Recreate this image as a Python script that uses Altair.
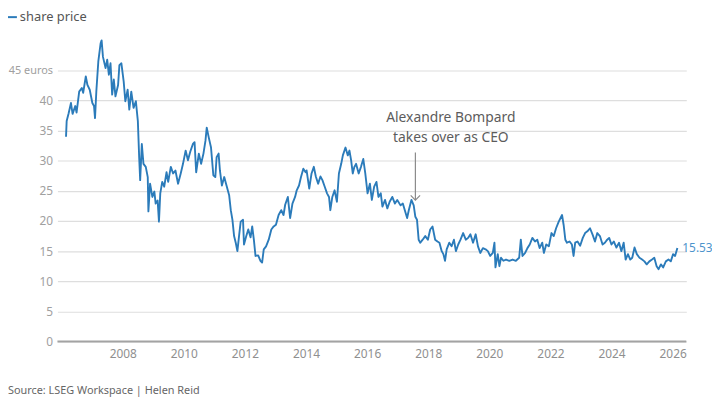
import altair as alt
import pandas as pd

# Share price, euros (decimal year, value)
years = [
2006.145,2006.166,2006.231,2006.307,2006.360,2006.447,2006.490,2006.576,2006.662,2006.706,
2006.792,2006.846,2006.921,2007.007,2007.061,2007.094,2007.137,2007.202,2007.277,2007.310,
2007.353,2007.439,2007.493,2007.547,2007.601,2007.655,2007.709,2007.763,2007.849,2007.892,
2007.957,2008.032,2008.086,2008.162,2008.216,2008.281,2008.356,2008.431,2008.496,2008.539,
2008.572,2008.626,2008.680,2008.755,2008.820,2008.841,2008.896,2008.971,2009.036,2009.079,
2009.143,2009.187,2009.230,2009.294,2009.359,2009.435,2009.489,2009.575,2009.650,2009.726,
2009.812,2009.899,2009.974,
2010.060,2010.136,2010.211,2010.298,2010.352,2010.405,2010.492,2010.567,2010.643,2010.708,
2010.751,2010.816,2010.891,2010.967,2011.031,2011.074,2011.139,2011.182,2011.247,2011.323,
2011.398,2011.484,2011.538,2011.592,2011.646,2011.700,2011.754,2011.808,2011.862,2011.938,
2011.970,2012.045,2012.110,2012.185,2012.239,2012.293,2012.347,2012.434,2012.509,2012.563,
2012.617,2012.693,2012.779,2012.865,2012.941,2013.016,2013.103,2013.189,2013.264,2013.318,
2013.405,2013.480,2013.556,2013.642,2013.696,2013.771,2013.836,2013.912,2013.987,
2014.019,2014.106,2014.181,2014.256,2014.321,2014.397,2014.472,2014.537,2014.613,2014.688,
2014.753,2014.796,2014.861,2014.936,2015.012,2015.077,2015.152,2015.206,2015.292,2015.368,
2015.422,2015.476,2015.530,2015.584,2015.638,2015.724,2015.799,2015.875,2015.940,2016.015,
2016.091,2016.155,2016.231,2016.306,2016.371,2016.447,2016.501,2016.587,2016.662,2016.738,
2016.824,2016.910,2016.986,2017.094,2017.169,2017.234,2017.310,2017.364,2017.450,2017.525,
2017.579,2017.633,2017.687,2017.741,2017.817,2017.903,2017.989,2018.065,2018.140,
2018.227,2018.302,2018.367,2018.442,2018.496,2018.550,2018.604,2018.690,2018.766,2018.841,
2018.906,2018.982,2019.057,2019.143,2019.230,2019.305,2019.381,2019.467,2019.553,2019.629,
2019.705,2019.790,2019.877,2019.952,2020.028,2020.114,2020.168,2020.201,2020.276,2020.330,
2020.384,2020.460,2020.546,2020.654,2020.761,2020.869,2020.977,2021.031,2021.085,2021.172,
2021.247,2021.323,2021.409,2021.495,2021.570,2021.646,2021.732,2021.786,2021.862,2021.948,
2022.034,2022.110,2022.185,
2022.272,2022.380,2022.434,2022.488,2022.542,2022.628,2022.703,2022.757,2022.811,2022.887,
2022.973,2023.059,2023.135,2023.210,2023.296,2023.383,2023.458,2023.534,2023.620,2023.706,
2023.782,2023.858,2023.922,2023.998,2024.074,2024.160,2024.246,2024.322,2024.397,2024.462,
2024.537,2024.613,2024.678,2024.753,2024.828,2024.915,2025.001,2025.077,2025.152,2025.238,
2025.325,2025.400,2025.476,2025.540,2025.616,2025.691,2025.778,2025.864,2025.939,2026.015,
2026.080,2026.155,
]
prices = [
34.0,36.6,37.9,39.6,37.8,39.1,38.0,41.5,42.1,41.3,
44.0,42.6,41.8,39.6,39.1,37.1,41.5,46.5,49.5,50.0,
47.3,45.4,46.8,44.3,46.2,41.0,43.5,40.7,42.6,45.9,
46.2,43.2,39.9,41.8,38.5,41.5,38.8,39.9,36.6,30.6,
26.8,32.8,29.5,29.0,27.3,21.6,26.2,24.0,24.9,22.9,
23.4,19.9,24.6,26.5,25.7,28.1,26.5,29.0,27.9,28.4,
26.2,27.9,29.5,
31.7,30.1,31.5,32.8,33.1,28.1,31.2,29.5,31.2,33.3,
35.5,33.9,32.2,27.6,27.3,30.6,31.2,28.4,25.9,27.3,
25.9,24.3,21.8,20.2,17.5,16.4,15.0,17.5,19.9,20.2,
16.1,17.5,18.6,17.3,19.1,16.9,14.2,14.3,13.4,13.1,
15.3,15.8,16.9,18.6,19.1,19.4,21.0,21.8,21.0,22.7,
24.0,20.5,22.9,24.0,25.1,25.9,27.3,28.7,28.1,
28.4,25.4,27.9,29.0,27.4,26.2,27.4,26.8,25.7,24.6,
24.0,21.8,24.0,25.1,23.2,27.9,29.5,30.9,32.2,30.9,
31.7,30.1,27.9,29.0,29.5,27.9,29.0,30.3,27.9,24.6,
26.2,23.5,25.7,26.5,24.0,24.6,22.4,23.5,22.1,23.2,
24.0,22.9,23.5,22.6,22.9,21.8,20.5,21.8,23.5,22.6,
20.7,20.2,16.9,16.4,16.9,17.5,16.9,18.6,19.1,
16.9,16.6,16.4,15.0,14.5,13.4,15.3,16.4,15.8,16.9,
15.0,16.1,16.9,18.0,16.9,17.2,17.8,16.4,17.8,15.8,
14.7,15.5,15.3,15.0,14.2,14.7,16.4,12.3,14.5,12.5,
13.9,13.4,13.6,13.4,13.6,13.4,13.9,16.9,14.2,14.7,
15.5,16.1,17.2,16.6,16.9,15.5,16.4,14.7,16.1,15.8,
18.0,17.5,18.8,
19.9,21.0,19.3,16.9,16.4,16.6,16.1,14.2,16.4,16.6,
15.9,17.2,18.0,18.3,18.8,17.7,16.6,18.0,17.5,16.1,
16.4,16.9,17.2,16.1,16.6,15.6,16.4,15.0,16.4,13.6,
14.5,13.6,13.9,15.6,14.5,13.9,13.6,13.3,12.8,13.3,
13.6,13.9,12.5,12.0,12.8,12.3,13.3,13.6,13.3,14.5,
14.2,15.53,
]

y_ticks = [0, 5, 10, 15, 20, 25, 30, 35, 40, 45]
x_ticks = [2008, 2010, 2012, 2014, 2016, 2018, 2020, 2022, 2024, 2026]
x_domain = [2005.864, 2026.447]
y_domain = [0, 51.4]

annot_lines = ["Alexandre Bompard", "takes over as CEO"]
annot_line_y = [37.1, 33.7]
annot_text_x = 2018.74
ceo_year = 2017.58
arrow_top = 31.37
arrow_tip = 23.48

legend_label = "share price"
source_label = "Source: LSEG Workspace | Helen Reid"

FONT = "Noto Sans"
BLUE = "#2b7bba"

df = pd.DataFrame({"year": years, "price": prices})
last = df.tail(1).assign(label=lambda d: d["price"].map(lambda v: f"{v:.2f}"))

xs = alt.Scale(domain=x_domain, nice=False, zero=False)
ys = alt.Scale(domain=y_domain, nice=False, zero=False)

AX_X = alt.Axis(values=x_ticks, format="d", grid=False, domain=False, ticks=False,
                labelPadding=7, labelColor="#8f8f8f", labelFontSize=12,
                labelFont=FONT, title=None)
AX_Y = alt.Axis(values=y_ticks, grid=True, gridColor="#dedede", gridWidth=1.2,
                domain=False, ticks=False, labelPadding=5, labelColor="#a0a0a0",
                labelFontSize={"condition": {"test": "datum.value == 45", "value": 11}, "value": 12},
                labelFont=FONT, title=None, labelOverlap=False,
                labelExpr="datum.value == 45 ? '45 euros' : datum.label")


def X(field):
    return alt.X(field, scale=xs, axis=AX_X)


def Y(field):
    return alt.Y(field, scale=ys, axis=AX_Y)


line = alt.Chart(df).mark_line(color=BLUE, strokeWidth=1.9, strokeJoin="round").encode(
    x=X("year:Q"), y=Y("price:Q"),
)

baseline = alt.Chart(pd.DataFrame({"v": [0]})).mark_rule(color="#a3a3a3", strokeWidth=2).encode(
    y=Y("v:Q")
)

end_label = alt.Chart(last).mark_text(align="left", baseline="middle", dx=5, fontSize=12,
                                      font=FONT, color="#4d94cc").encode(
    x=X("year:Q"), y=Y("price:Q"), text="label:N"
)

annot_df = pd.DataFrame({"t": annot_lines, "y": annot_line_y, "x": [annot_text_x] * 2})
annot = alt.Chart(annot_df).mark_text(align="center", baseline="middle", fontSize=14,
                                      font=FONT, color="#5c5c5c").encode(
    x=X("x:Q"), y=Y("y:Q"), text="t:N"
)

arrow_df = pd.DataFrame({"x": [ceo_year], "y1": [arrow_top], "y2": [arrow_tip]})
arrow = alt.Chart(arrow_df).mark_rule(color="#8a8a8a", strokeWidth=1.2).encode(
    x=X("x:Q"), y=Y("y1:Q"), y2="y2:Q"
)
arrow_head = alt.Chart(arrow_df).mark_point(shape="M-1,-1L0,0L1,-1", filled=False, size=90,
                                            color="#8a8a8a", strokeWidth=1.2, opacity=1).encode(
    x=X("x:Q"), y=Y("y2:Q")
)

leg_line = alt.Chart(pd.DataFrame({"a": [0]})).mark_rule(color=BLUE, strokeWidth=2).encode(
    x=alt.value(-60), x2=alt.value(-41), y=alt.value(-15)
)
leg_text = alt.Chart(pd.DataFrame({"t": [legend_label]})).mark_text(
    align="left", baseline="middle", fontSize=13, font=FONT, color="#555555").encode(
    x=alt.value(-38), y=alt.value(-15), text="t:N"
)
source = alt.Chart(pd.DataFrame({"t": [source_label]})).mark_text(
    align="left", baseline="middle", fontSize=11, font=FONT, color="#666666").encode(
    x=alt.value(-50), y=alt.value(363), text="t:N"
)

chart = alt.layer(baseline, line, end_label, arrow, arrow_head, annot, leg_line, leg_text, source).properties(
    width=636, height=313,
    background="white",
    autosize=alt.AutoSizeParams(type="none"),
    padding={"left": 50, "top": 22, "right": 26, "bottom": 59},
).configure_view(stroke=None)

chart.save("out.html", embed_options={"renderer": "svg", "actions": False})
